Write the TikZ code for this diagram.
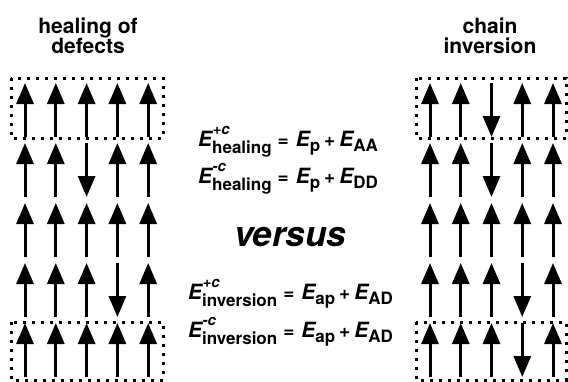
\documentclass[tikz,border=0pt]{standalone}
\usepackage{fontspec}
\setmainfont{TeX Gyre Heros}
\usetikzlibrary{arrows.meta}
\newcommand\Eb{{\fontsize{21}{21}\selectfont\bfseries\itshape E}}
\newcommand\Ess[2]{\Eb\rlap{\hspace{0.5pt}\raisebox{11.5pt}{\fontsize{15}{15}\selectfont\bfseries\itshape #1}}\raisebox{-7pt}{\fontsize{17}{17}\selectfont\bfseries #2}}
\newcommand\Es[1]{\Eb\raisebox{-5pt}{\fontsize{17}{17}\selectfont\bfseries #1}}
\newcommand\Eq{{\fontsize{19}{19}\selectfont\bfseries\hspace{6pt}=\hspace{7pt}}}
\newcommand\Pl{{\fontsize{19}{19}\selectfont\bfseries\hspace{4pt}+\hspace{4pt}}}
\tikzset{
  spin/.style={line width=3pt, -{Triangle[length=21pt,width=17pt]}},
  dotbox/.style={line width=3pt, dash pattern=on 3pt off 6pt},
  ttl/.style={font=\fontsize{21}{21}\selectfont\bfseries, anchor=base, inner sep=0pt},
  eqn/.style={anchor=base west, inner sep=0pt},
}
\begin{document}
\begin{tikzpicture}[x=1pt,y=-1pt]
\useasboundingbox (0,0) rectangle (568,381);
% titles
\node[ttl] (t1) at (88,33) {healing of};
\node[ttl] (t2) at (88,53) {defects};
\node[ttl] (t3) at (490,33) {chain};
\node[ttl] (t4) at (490,53) {inversion};
% spins, left panel
\foreach \r/\dl in {1/{1,1,1,1,1},2/{1,1,-1,1,1},3/{1,1,1,1,1},4/{1,1,1,-1,1},5/{1,1,1,1,1}}{
  \foreach \d [count=\c] in \dl {
    \draw[spin] ({25+30.8*(\c-1)},{110+60*(\r-1)+27*\d}) -- ({25+30.8*(\c-1)},{110+60*(\r-1)-27*\d});
  }
}
% spins, right panel
\foreach \r/\dl in {1/{1,1,-1,1,1},2/{1,1,-1,1,1},3/{1,1,1,1,1},4/{1,1,1,-1,1},5/{1,1,1,-1,1}}{
  \foreach \d [count=\c] in \dl {
    \draw[spin] ({430+30.75*(\c-1)},{110+60*(\r-1)+27*\d}) -- ({430+30.75*(\c-1)},{110+60*(\r-1)-27*\d});
  }
}
% dotted boxes
\draw[dotbox] (11,78) rectangle (163,138);
\draw[dotbox] (11,322) rectangle (163,380);
\draw[dotbox] (416,78) rectangle (566,138);
\draw[dotbox] (416,322) rectangle (566,380);
% equations
\node[eqn] (e1) at (198,146) {\Ess{+c}{healing}\Eq\Es{p}\Pl\Es{AA}};
\node[eqn] (e2) at (198,183) {\Ess{-c}{healing}\Eq\Es{p}\Pl\Es{DD}};
\node[anchor=base, inner sep=0pt, font=\fontsize{35}{35}\selectfont\bfseries\itshape] (vs) at (290,246) {versus};
\node[eqn] (e3) at (188,299) {\Ess{+c}{inversion}\Eq\Es{ap}\Pl\Es{AD}};
\node[eqn] (e4) at (188,337) {\Ess{-c}{inversion}\Eq\Es{ap}\Pl\Es{AD}};
\end{tikzpicture}
\end{document}
